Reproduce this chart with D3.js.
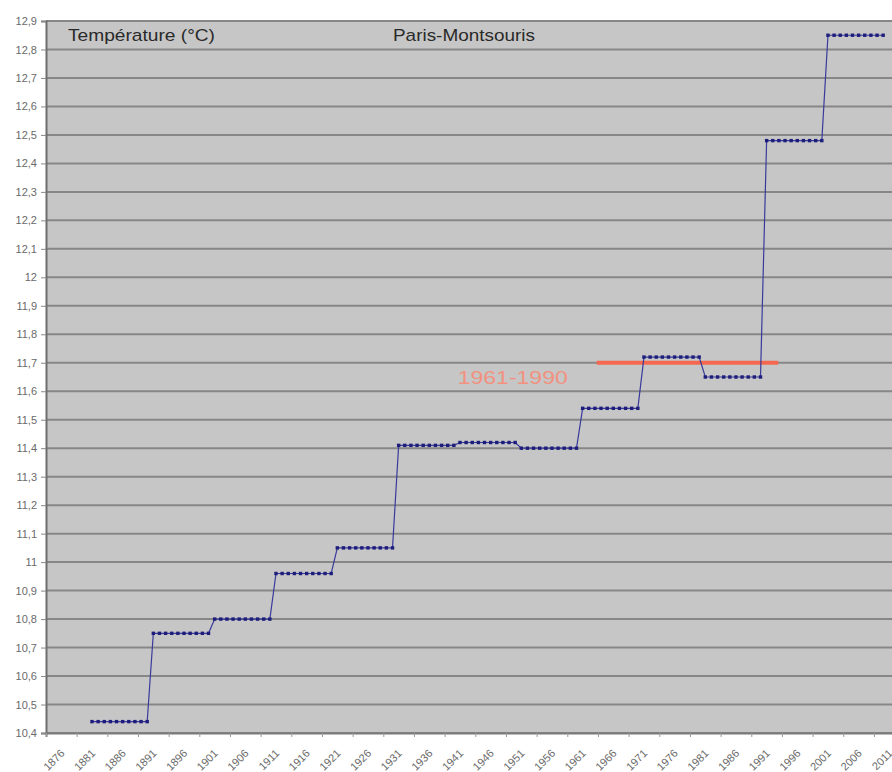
<!DOCTYPE html>
<html>
<head>
<meta charset="utf-8">
<script src="https://cdn.jsdelivr.net/npm/d3@7"></script>
<style>
  body { margin: 0; background: #fff; }
  svg { display: block; font-family: "Liberation Sans", Arial, sans-serif; }
</style>
</head>
<body>
<svg width="892" height="772"></svg>
<script>
// decade means, each drawn once per year of the decade
var decadeStarts = [1881, 1891, 1901, 1911, 1921, 1931, 1941, 1951, 1961, 1971, 1981, 1991, 2001];
var decadeMeans = [10.44, 10.75, 10.80, 10.96, 11.05, 11.41, 11.42, 11.40, 11.54, 11.72, 11.65, 12.48, 12.85];

var xTickYears = [1876, 1881, 1886, 1891, 1896, 1901, 1906, 1911, 1916, 1921, 1926, 1931, 1936, 1941,
                  1946, 1951, 1956, 1961, 1966, 1971, 1976, 1981, 1986, 1991, 1996, 2001, 2006, 2011];
var yTicks = [10.4, 10.5, 10.6, 10.7, 10.8, 10.9, 11, 11.1, 11.2, 11.3, 11.4, 11.5, 11.6, 11.7,
              11.8, 11.9, 12, 12.1, 12.2, 12.3, 12.4, 12.5, 12.6, 12.7, 12.8, 12.9];

// normale 1961-1990, as drawn on the picture
var refLabel = "1961-1990";
var refValue = [11.7];
var refSpan = [1963.3, 1992.9];

var titleLeft = "Température (°C)";
var titleMid = "Paris-Montsouris";

var points = [];
decadeStarts.forEach(function(y0, i)
{
    d3.range(10).forEach(function(k)
    {
        points.push({year: y0 + k, value: decadeMeans[i]});
    });
});

var svg = d3.select("svg");

var x = d3.scaleLinear()
    .domain([1873.5, 2012.5])
    .range([46, 46 + 139 * 6.133]);
var y = d3.scaleLinear()
    .domain([10.4, 12.9])
    .range([733, 21]);

var frLocale = d3.formatLocale({decimal: ",", thousands: " ", grouping: [3], currency: ["", " €"]});
var fmt = frLocale.format("~g");

// plot area
svg.append("rect")
    .attr("x", x.range()[0])
    .attr("y", y.range()[1])
    .attr("width", x.range()[1] - x.range()[0])
    .attr("height", y.range()[0] - y.range()[1])
    .attr("fill", "#c6c6c6");

// gridlines
svg.append("g")
    .selectAll("line")
    .data(yTicks)
    .enter()
    .append("line")
    .attr("x1", x.range()[0])
    .attr("x2", x.range()[1])
    .attr("y1", function(d){ return y(d); })
    .attr("y2", function(d){ return y(d); })
    .attr("stroke", "#878787")
    .attr("stroke-width", 2);

// y axis
var yAxis = svg.append("g")
    .attr("transform", "translate(" + x.range()[0] + ",0)")
    .call(d3.axisLeft(y).tickValues(yTicks).tickFormat(fmt).tickSize(5).tickPadding(4));
yAxis.select(".domain").attr("stroke", "#6e6e6e").attr("stroke-width", 2);
yAxis.selectAll(".tick line").attr("stroke", "#888");
yAxis.selectAll(".tick text")
    .attr("fill", "#6a6a6a")
    .style("font-size", "11px")
    .style("font-family", "'Liberation Sans', Arial, sans-serif");

// x axis: ticks between label groups
var tickMarks = [xTickYears[0] - 2.5].concat(xTickYears.map(function(d){ return d + 2.5; }));
var xAxis = svg.append("g")
    .attr("transform", "translate(0," + y.range()[0] + ")")
    .call(d3.axisBottom(x).tickValues(tickMarks).tickFormat("").tickSize(4));
xAxis.select(".domain").attr("stroke", "#7a7a7a").attr("stroke-width", 2);
xAxis.selectAll(".tick line").attr("stroke", "#999");

svg.append("g")
    .selectAll("text")
    .data(xTickYears)
    .enter()
    .append("text")
    .attr("transform", function(d){ return "translate(" + (x(d) + 4) + ",754) rotate(-45)"; })
    .attr("text-anchor", "end")
    .attr("fill", "#6a6a6a")
    .style("font-size", "11px")
    .text(function(d){ return d; });

// reference line
svg.append("line")
    .attr("x1", x(refSpan[0]))
    .attr("x2", x(refSpan[1]))
    .attr("y1", y(refValue[0]))
    .attr("y2", y(refValue[0]))
    .attr("stroke", "#f3684f")
    .attr("stroke-width", 4);

svg.append("text")
    .attr("x", x(refSpan[0]) - 139)
    .attr("y", y(refValue[0]) + 21)
    .attr("textLength", 110)
    .attr("lengthAdjust", "spacingAndGlyphs")
    .attr("fill", "#f2917f")
    .style("font-size", "19px")
    .text(refLabel);

// series
var line = d3.line()
    .x(function(p){ return x(p.year); })
    .y(function(p){ return y(p.value); });

svg.append("path")
    .datum(points)
    .attr("d", line)
    .attr("fill", "none")
    .attr("stroke", "#3a3a9c")
    .attr("stroke-width", 1.2);

svg.append("g")
    .selectAll("rect")
    .data(points)
    .enter()
    .append("rect")
    .attr("x", function(p){ return x(p.year) - 1.7; })
    .attr("y", function(p){ return y(p.value) - 1.7; })
    .attr("width", 3.4)
    .attr("height", 3.4)
    .attr("fill", "#1d1d7c");

// titles
svg.append("text")
    .attr("x", 68)
    .attr("y", 41)
    .attr("textLength", 147)
    .attr("lengthAdjust", "spacingAndGlyphs")
    .attr("fill", "#2a2a2a")
    .style("font-size", "17px")
    .text(titleLeft);

svg.append("text")
    .attr("x", 393)
    .attr("y", 41)
    .attr("textLength", 142)
    .attr("lengthAdjust", "spacingAndGlyphs")
    .attr("fill", "#2a2a2a")
    .style("font-size", "17px")
    .text(titleMid);
</script>
</body>
</html>
